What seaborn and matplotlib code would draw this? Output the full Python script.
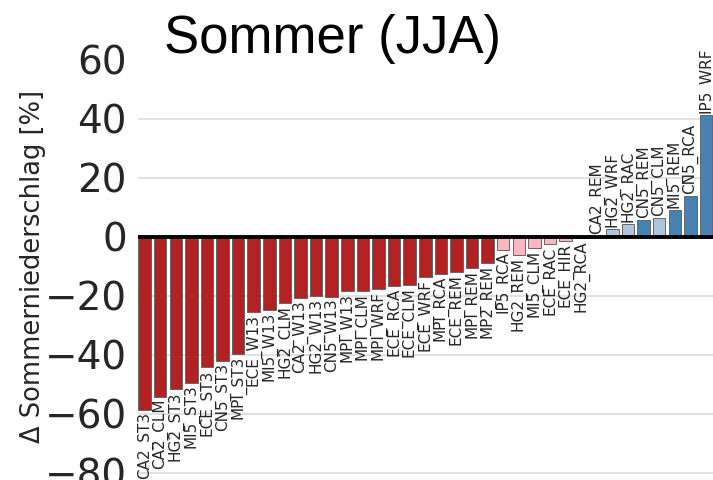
import matplotlib
matplotlib.use("Agg")
import matplotlib.pyplot as plt
import matplotlib.transforms as mtransforms
import seaborn as sns
import pandas as pd

models = ["CA2_ST3", "CA2_CLM", "HG2_ST3", "MI5_ST3", "ECE_ST3", "CN5_ST3", "MPI_ST3",
          "ECE_W13", "MI5_W13", "HG2_CLM", "CA2_W13", "HG2_W13", "CN5_W13", "MPI_W13",
          "MPI_CLM", "MPI_WRF", "ECE_RCA", "ECE_CLM", "ECE_WRF", "MPI_RCA", "ECE_REM",
          "MPI_REM", "MP2_REM", "IP5_RCA", "HG2_REM", "MI5_CLM", "ECE_RAC", "ECE_HIR",
          "HG2_RCA", "CA2_REM", "HG2_WRF", "HG2_RAC", "CN5_REM", "CN5_CLM", "MI5_REM",
          "CN5_RCA", "IP5_WRF"]
change = [-58.6, -54.2, -51.6, -49.4, -44.2, -41.9, -39.7,
          -25.6, -24.7, -22.5, -20.8, -20.1, -20.2, -18.5,
          -18.4, -17.8, -16.5, -16.3, -13.5, -12.6, -12.0,
          -10.6, -8.9, -4.3, -6.1, -3.8, -2.5, -1.5,
          -0.5, 0.3, 2.6, 4.4, 5.8, 6.5, 9.2,
          13.9, 41.4]
significant = [True] * 23 + [False] * 6 + [False, False, False, True, False, True, True, True]

title = "Sommer (JJA)"
ylabel = "\u0394 Sommerniederschlag [%]"
yticks = [-80, -60, -40, -20, 0, 20, 40, 60]

def bar_color(v, s):
    if v < 0:
        return "#b22222" if s else "#ffb6c1"
    return "#4682b4" if s else "#b0c4de"

colors = [bar_color(v, s) for v, s in zip(change, significant)]
df = pd.DataFrame({"model": models, "change": change})

sns.set_style("whitegrid")
plt.rcParams["font.family"] = ["DejaVu Sans"]

fig = plt.figure(figsize=(7.13, 4.8), dpi=100)
ax = fig.add_axes([138 / 713, 0.0, 575 / 713, 426 / 480])

sns.barplot(data=df, x="model", y="change", hue="model", palette=colors,
            legend=False, width=0.8, edgecolor="#666666", linewidth=0.7,
            saturation=1, ax=ax, zorder=2)

ax.axhline(0, color="black", lw=2.8, zorder=3)
ax.set_ylim(-82.4, 62)
ax.set_xlim(-0.42, 36.45)
ax.set_yticks(yticks)
ax.set_yticklabels([f"{t}".replace("-", "\u2212") for t in yticks])
ax.tick_params(axis="y", labelsize=28, length=0, pad=8, colors="#262626")
ax.set_xticks([])
ax.set_xlabel("")
ax.set_ylabel("")
for sp in ax.spines.values():
    sp.set_visible(False)
ax.grid(axis="y", color="#dcdcdc", lw=1.2)
ax.grid(axis="x", visible=False)
ax.set_axisbelow(True)
ax.get_ygridlines()[-1].set_visible(False)

for i, (lab, v) in enumerate(zip(models, change)):
    if v < 0:
        off = mtransforms.offset_copy(ax.transData, fig=fig, x=0, y=-2, units="dots")
        ax.text(i, v, lab, rotation=90, ha="center", va="top", fontsize=11,
                color="#262626", transform=off)
    else:
        off = mtransforms.offset_copy(ax.transData, fig=fig, x=0, y=2, units="dots")
        ax.text(i, v, lab, rotation=90, ha="center", va="bottom", fontsize=11,
                color="#262626", transform=off)

fig.text(332 / 713, 1 - 53 / 480, title, ha="center", va="baseline",
         fontsize=38, family="Liberation Sans", color="black")
fig.text(33 / 713, 1 - 266 / 480, ylabel, rotation=90, ha="center", va="center",
         fontsize=18.5, color="#262626")

fig.savefig("out.png", dpi=100)
